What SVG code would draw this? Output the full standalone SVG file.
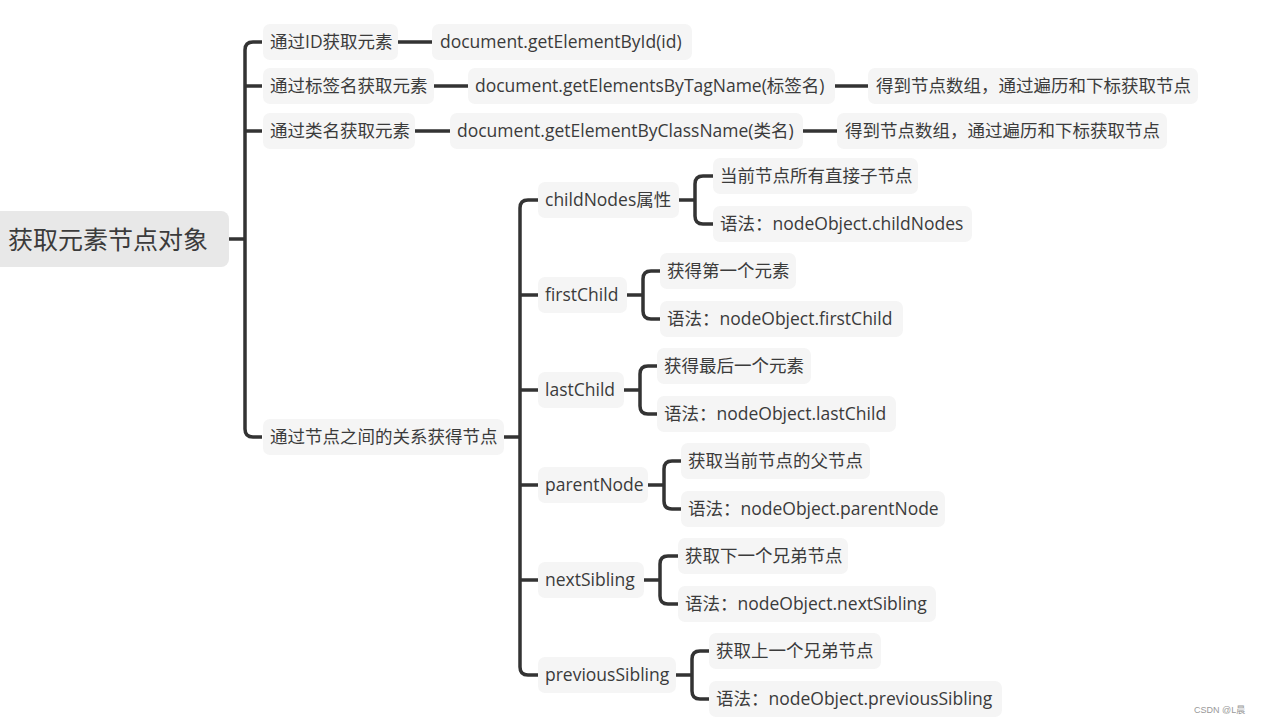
<svg xmlns="http://www.w3.org/2000/svg" width="1261" height="725" viewBox="0 0 1261 725">
<style>
.n{fill:#f5f5f5}
.r{fill:#e8e8e8}
.t{font-family:"Open Sans","Noto Sans CJK SC",sans-serif;font-size:17.5px;fill:#3b3b3b;dominant-baseline:central}
.rt{font-family:"Open Sans","Noto Sans CJK SC",sans-serif;font-size:25px;fill:#3b3b3b;dominant-baseline:central}
.c{fill:none;stroke:#333;stroke-width:3.5;stroke-linejoin:round}
.w{font-family:"Liberation Sans","Noto Sans CJK SC",sans-serif;font-size:9px;fill:#999}
</style>
<rect width="1261" height="725" fill="#fff"/>
<g id="connectors">
<path class="c" d="M229,239H245"/>
<path class="c" d="M262,42H253Q245,42 245,50V429Q245,437 253,437H262M245,86H262M245,131H262"/>
<path class="c" d="M398,42H432M434,86H468M415,131H450M835,86H868M803,131H837"/>
<path class="c" d="M504,437H520"/>
<path class="c" d="M538,200H528Q520,200 520,208V667Q520,675 528,675H538M520,295H538M520,390H538M520,485H538M520,580H538"/>
<path class="c" d="M679,200H695M713,176H703Q695,176 695,184V216Q695,224 703,224H713"/>
<path class="c" d="M627,295H643M660,271H651Q643,271 643,279V311Q643,319 651,319H660"/>
<path class="c" d="M624,390H640M657,366H648Q640,366 640,374V406Q640,414 648,414H657"/>
<path class="c" d="M648,485H664M681,461H672Q664,461 664,469V501Q664,509 672,509H681"/>
<path class="c" d="M644,580H660M678,556H668Q660,556 660,564V596Q660,604 668,604H678"/>
<path class="c" d="M676,675H692M709,651H700Q692,651 692,659V691Q692,699 700,699H709"/>
</g>
<g id="root"><rect class="r" x="-10" y="211" width="239" height="56" rx="8"/><text class="rt" x="8" y="239">获取元素节点对象</text></g>
<g id="n1"><rect class="n" x="263" y="24" width="135" height="36" rx="7"/><text class="t" x="270" y="41">通过ID获取元素</text></g>
<g id="n2"><rect class="n" x="263" y="68" width="171" height="36" rx="7"/><text class="t" x="270" y="85">通过标签名获取元素</text></g>
<g id="n3"><rect class="n" x="263" y="113" width="152" height="36" rx="7"/><text class="t" x="270" y="130">通过类名获取元素</text></g>
<g id="n4"><rect class="n" x="263" y="419" width="241" height="36" rx="7"/><text class="t" x="270" y="436">通过节点之间的关系获得节点</text></g>
<g id="n1a"><rect class="n" x="432" y="24" width="260" height="36" rx="7"/><text class="t" x="440" y="41">document.getElementById(id)</text></g>
<g id="n2a"><rect class="n" x="468" y="68" width="367" height="36" rx="7"/><text class="t" x="475" y="85">document.getElementsByTagName(标签名)</text></g>
<g id="n3a"><rect class="n" x="450" y="113" width="353" height="36" rx="7"/><text class="t" x="457" y="130">document.getElementByClassName(类名)</text></g>
<g id="n2b"><rect class="n" x="868" y="68" width="330" height="36" rx="7"/><text class="t" x="876" y="85">得到节点数组，通过遍历和下标获取节点</text></g>
<g id="n3b"><rect class="n" x="837" y="113" width="330" height="36" rx="7"/><text class="t" x="845" y="130">得到节点数组，通过遍历和下标获取节点</text></g>
<g id="childNodes"><rect class="n" x="538" y="182" width="141" height="36" rx="7"/><text class="t" x="545" y="199">childNodes属性</text></g>
<g id="childNodes1"><rect class="n" x="713" y="158" width="205" height="36" rx="7"/><text class="t" x="720" y="175">当前节点所有直接子节点</text></g>
<g id="childNodes2"><rect class="n" x="713" y="206" width="259" height="36" rx="7"/><text class="t" x="720" y="223">语法：nodeObject.childNodes</text></g>
<g id="firstChild"><rect class="n" x="538" y="277" width="89" height="36" rx="7"/><text class="t" x="545" y="294">firstChild</text></g>
<g id="firstChild1"><rect class="n" x="660" y="253" width="136" height="36" rx="7"/><text class="t" x="667" y="270">获得第一个元素</text></g>
<g id="firstChild2"><rect class="n" x="660" y="301" width="243" height="36" rx="7"/><text class="t" x="667" y="318">语法：nodeObject.firstChild</text></g>
<g id="lastChild"><rect class="n" x="538" y="372" width="86" height="36" rx="7"/><text class="t" x="545" y="389">lastChild</text></g>
<g id="lastChild1"><rect class="n" x="657" y="348" width="154" height="36" rx="7"/><text class="t" x="664" y="365">获得最后一个元素</text></g>
<g id="lastChild2"><rect class="n" x="657" y="396" width="239" height="36" rx="7"/><text class="t" x="664" y="413">语法：nodeObject.lastChild</text></g>
<g id="parentNode"><rect class="n" x="538" y="467" width="110" height="36" rx="7"/><text class="t" x="545" y="484">parentNode</text></g>
<g id="parentNode1"><rect class="n" x="681" y="443" width="189" height="36" rx="7"/><text class="t" x="688" y="460">获取当前节点的父节点</text></g>
<g id="parentNode2"><rect class="n" x="681" y="491" width="264" height="36" rx="7"/><text class="t" x="688" y="508">语法：nodeObject.parentNode</text></g>
<g id="nextSibling"><rect class="n" x="538" y="562" width="106" height="36" rx="7"/><text class="t" x="545" y="579">nextSibling</text></g>
<g id="nextSibling1"><rect class="n" x="678" y="538" width="170" height="36" rx="7"/><text class="t" x="685" y="555">获取下一个兄弟节点</text></g>
<g id="nextSibling2"><rect class="n" x="678" y="586" width="258" height="36" rx="7"/><text class="t" x="685" y="603">语法：nodeObject.nextSibling</text></g>
<g id="previousSibling"><rect class="n" x="538" y="657" width="138" height="36" rx="7"/><text class="t" x="545" y="674">previousSibling</text></g>
<g id="previousSibling1"><rect class="n" x="709" y="633" width="172" height="36" rx="7"/><text class="t" x="716" y="650">获取上一个兄弟节点</text></g>
<g id="previousSibling2"><rect class="n" x="709" y="681" width="293" height="36" rx="7"/><text class="t" x="716" y="698">语法：nodeObject.previousSibling</text></g>
<text class="w" x="1194" y="713">CSDN @L晨</text>
</svg>
